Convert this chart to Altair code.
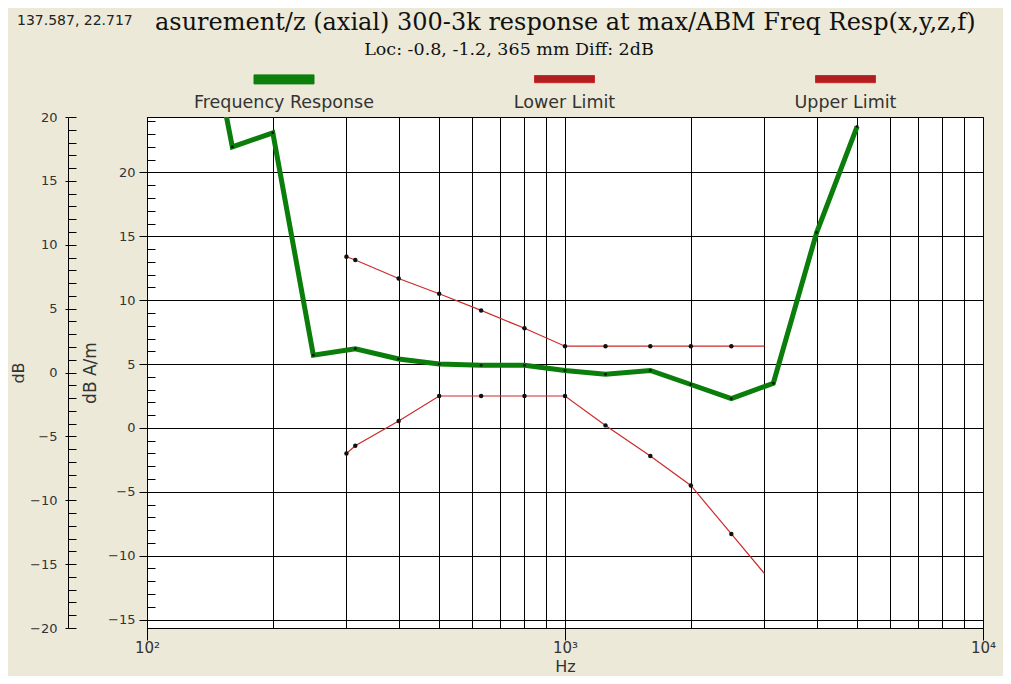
import altair as alt
import pandas as pd

# ---------------- data ----------------
freq_fr = [125, 160, 200, 250, 315, 400, 500, 630, 800, 1000, 1250, 1600, 2000, 2500, 3150, 4000, 5000]
resp_fr = [40.0, 22.0, 23.1, 5.7, 6.2, 5.4, 5.0, 4.9, 4.9, 4.5, 4.2, 4.5, 3.4, 2.3, 3.5, 15.3, 23.6]

freq_lim = [300, 315, 400, 500, 630, 800, 1000, 1250, 1600, 2000, 2500, 3000]
lower_lim = [-2.0, -1.4, 0.55, 2.5, 2.5, 2.5, 2.5, 0.2, -2.2, -4.5, -8.3, -11.4]
upper_lim = [13.4, 13.15, 11.7, 10.5, 9.2, 7.8, 6.4, 6.4, 6.4, 6.4, 6.4, 6.4]
lim_dot = [True] * 11 + [False]

series_names = ["Frequency Response", "Lower Limit", "Upper Limit"]
series_colors = ["#0b7d0b", "#cc2a2a", "#cc2a2a"]
swatch_fill = ["#0c7f0c", "#b11e22", "#b11e22"]
swatch_stroke = ["#1b3b1b", "#4a1010", "#4a1010"]

x_grid = [100, 200, 300, 400, 500, 600, 700, 800, 900,
          1000, 2000, 3000, 4000, 5000, 6000, 7000, 8000, 9000, 10000]
y_inner_major = [-15, -10, -5, 0, 5, 10, 15, 20]
y_inner_minor = list(range(-15, 25))
y_outer_major = list(range(-20, 21, 5))
y_outer_minor = list(range(-20, 21))
inner_domain = [-15.66, 24.34]
outer_domain = [-20, 20]

title_text = "asurement/z (axial) 300-3k response at max/ABM Freq Resp(x,y,z,f)"
subtitle_text = "Loc: -0.8, -1.2, 365 mm Diff: 2dB"
readout_text = "137.587, 22.717"

SANS = "DejaVu Sans"
SERIF = "DejaVu Serif"

df_fr = pd.DataFrame({"f": freq_fr, "v": resp_fr, "s": series_names[0]})
df_lo = pd.DataFrame({"f": freq_lim, "v": lower_lim, "s": series_names[1], "d": lim_dot})
df_up = pd.DataFrame({"f": freq_lim, "v": upper_lim, "s": series_names[2], "d": lim_dot})

decade_test = "datum.value == 100 || datum.value == 1000 || datum.value == 10000"
x_axis = alt.Axis(
    values=x_grid, grid=True, gridColor="black", gridWidth=1, gridOpacity=1,
    domainColor="black", tickColor="black",
    tickSize=12, tickOpacity={"condition": {"test": decade_test, "value": 1}, "value": 0},
    labelExpr="datum.value == 100 ? '10²' : datum.value == 1000 ? '10³' : datum.value == 10000 ? '10⁴' : ''",
    labelFont=SANS, labelFontSize=15, labelColor="#333", labelPadding=0, labelFlush=False,
    title="Hz", titleFont=SANS, titleFontSize=16, titleFontWeight="normal", titleColor="#333",
    titlePadding=3,
)
X = alt.X("f:Q", scale=alt.Scale(type="log", domain=[100, 10000], nice=False), axis=x_axis)

inner_axis = alt.Axis(
    values=y_inner_major, grid=True, gridColor="black", gridWidth=1, gridOpacity=1,
    domainColor="black", tickColor="black", tickSize=8,
    labelFont=SANS, labelFontSize=13, labelColor="#333", labelPadding=4,
    title="dB A/m", titleFont=SANS, titleFontSize=17, titleFontWeight="normal", titleColor="#333",
    titleAngle=270, titleX=-57, titleY=255.5, titleAlign="center", titleBaseline="middle",
)


def yscale(dom):
    return alt.Scale(domain=dom, nice=False, zero=False)


def legend_for(i, lx, top, bot):
    path = f"M-1,{top}H1V{bot}H-1Z"
    return alt.Legend(
        title=None, orient="none", legendX=lx, legendY=-54, padding=0,
        symbolType=path, symbolSize=3600, symbolStrokeWidth=1,
        symbolFillColor=swatch_fill[i], symbolStrokeColor=swatch_stroke[i], symbolOpacity=1,
        labelFont=SANS, labelFontSize=17.5, labelColor="#333", labelLimit=400,
        labelAlign="center", labelBaseline="top", labelOffset={"expr": "-30.5"},
    )


def line_layer(df, i, width, axis, lx, top, bot):
    return alt.Chart(df).mark_line(clip=True, strokeWidth=width).encode(
        x=X,
        y=alt.Y("v:Q", scale=yscale(inner_domain), axis=axis),
        color=alt.Color("s:N", scale=alt.Scale(domain=[series_names[i]], range=[series_colors[i]]),
                        legend=legend_for(i, lx, top, bot)),
    )


def dot_layer(df, size, filt=None):
    c = alt.Chart(df)
    if filt:
        c = c.transform_filter(filt)
    return c.mark_circle(clip=True, size=size, color="#111", opacity=1).encode(
        x=X, y=alt.Y("v:Q", scale=yscale(inner_domain), axis=None)
    )


fr_line = line_layer(df_fr, 0, 5, inner_axis, 106.5, -0.62, -0.32)
fr_dots = dot_layer(df_fr, 8)
lo_line = line_layer(df_lo, 1, 1.2, None, 387, -0.6, -0.36)
lo_dots = dot_layer(df_lo, 20, "datum.d")
up_line = line_layer(df_up, 2, 1.2, None, 668, -0.6, -0.36)
up_dots = dot_layer(df_up, 20, "datum.d")

# inner minor ticks (pointing into the plot)
inner_minor = alt.Chart(pd.DataFrame({"v": y_inner_minor})).mark_point(opacity=0).encode(
    y=alt.Y("v:Q", scale=yscale(inner_domain), axis=alt.Axis(
        orient="left", offset=-8, values=y_inner_minor, tickSize=8, tickColor="black",
        labels=False, domain=False, grid=False, title=None)),
)

# outer dB axis
outer_major = alt.Chart(pd.DataFrame({"v": y_outer_major})).mark_point(opacity=0).encode(
    y=alt.Y("v:Q", scale=yscale(outer_domain), axis=alt.Axis(
        orient="left", offset=79, values=y_outer_major, tickSize=3, tickColor="black",
        domain=True, domainColor="black", grid=False,
        labelFont=SANS, labelFontSize=13, labelColor="#333", labelPadding=8,
        title="dB", titleFont=SANS, titleFontSize=16, titleFontWeight="normal", titleColor="#333",
        titleAngle=270, titleX=-50, titleY=255.5, titleAlign="center", titleBaseline="middle")),
)
outer_minor = alt.Chart(pd.DataFrame({"v": y_outer_minor})).mark_point(opacity=0).encode(
    y=alt.Y("v:Q", scale=yscale(outer_domain), axis=alt.Axis(
        orient="left", offset=71, values=y_outer_minor, tickSize=8, tickColor="black",
        labels=False, domain=False, grid=False, title=None)),
)

# header texts
title_mark = alt.Chart(pd.DataFrame({"t": [title_text]})).mark_text(
    font=SERIF, fontSize=24, align="left", baseline="alphabetic", color="#111"
).encode(x=alt.value(8), y=alt.value(-87), text="t:N")
subtitle_mark = alt.Chart(pd.DataFrame({"t": [subtitle_text]})).mark_text(
    font=SERIF, fontSize=17.5, align="center", baseline="alphabetic", color="#111"
).encode(x=alt.value(362), y=alt.value(-62), text="t:N")
readout_mark = alt.Chart(pd.DataFrame({"t": [readout_text]})).mark_text(
    font=SANS, fontSize=14, align="left", baseline="alphabetic", color="#222"
).encode(x=alt.value(-130), y=alt.value(-92), text="t:N")

chart = alt.layer(
    fr_line, fr_dots, lo_line, lo_dots, up_line, up_dots,
    inner_minor, outer_major, outer_minor,
    title_mark, subtitle_mark, readout_mark,
).resolve_scale(
    y="independent", color="independent"
).properties(
    width=836, height=511,
    autosize=alt.AutoSizeParams(type="none"),
    padding={"left": 139, "top": 109, "right": 20, "bottom": 48},
    background="#ECE9D8",
).configure_view(
    fill="white", stroke="black", strokeWidth=1
)

chart.save("out.html", embed_options={"renderer": "svg", "actions": False})
